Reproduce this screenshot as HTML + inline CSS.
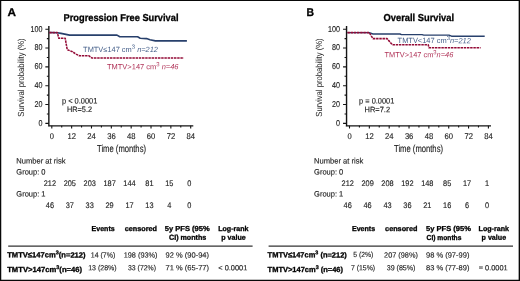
<!DOCTYPE html>
<html><head><meta charset="utf-8"><title>Survival</title>
<style>
html,body{margin:0;padding:0;background:#fff;}
body{width:520px;height:281px;overflow:hidden;font-family:"Liberation Sans",sans-serif;}
svg{display:block;will-change:transform;text-rendering:geometricPrecision;font-family:"Liberation Sans",sans-serif;}
</style></head><body>
<svg width="520" height="281" viewBox="0 0 520 281">
<rect x="0" y="0" width="520" height="281" fill="#fff"/>
<path d="M0 0H520V1.05H0ZM0 279.65H520V281H0ZM0 0H1.25V281H0ZM518.65 0H520V281H518.65Z" fill="#080808"/>
<path d="M48.85 26V125.85H193.3" fill="none" stroke="#141414" stroke-width="1.4" stroke-linecap="butt"/>
<path d="M48.15 125.85V126.55H49.550000000000004" fill="none" stroke="#141414" stroke-width="0.1"/>
<path d="M45.35 123.35H48.85M46.85 113.94H48.85M45.35 104.53H48.85M46.85 95.12H48.85M45.35 85.71H48.85M46.85 76.30H48.85M45.35 66.89H48.85M46.85 57.48H48.85M45.35 48.07H48.85M46.85 38.66H48.85M45.35 29.25H48.85M51.80 125.85V128.4M61.72 125.85V127.6M71.64 125.85V128.4M81.56 125.85V127.6M91.49 125.85V128.4M101.41 125.85V127.6M111.33 125.85V128.4M121.25 125.85V127.6M131.17 125.85V128.4M141.09 125.85V127.6M151.02 125.85V128.4M160.94 125.85V127.6M170.86 125.85V128.4M180.78 125.85V127.6M190.70 125.85V128.4" fill="none" stroke="#141414" stroke-width="1.1"/>
<text x="42.4" y="125.75" transform="rotate(0.03 42.4 125.75)" font-size="8.5" text-anchor="end" fill="#1e1e1e" stroke="#1e1e1e" stroke-width="0.14" textLength="4.0" lengthAdjust="spacingAndGlyphs">0</text>
<text x="42.4" y="106.93" transform="rotate(0.03 42.4 106.93)" font-size="8.5" text-anchor="end" fill="#1e1e1e" stroke="#1e1e1e" stroke-width="0.14" textLength="8.0" lengthAdjust="spacingAndGlyphs">20</text>
<text x="42.4" y="88.11" transform="rotate(0.03 42.4 88.11)" font-size="8.5" text-anchor="end" fill="#1e1e1e" stroke="#1e1e1e" stroke-width="0.14" textLength="8.0" lengthAdjust="spacingAndGlyphs">40</text>
<text x="42.4" y="69.29" transform="rotate(0.03 42.4 69.29)" font-size="8.5" text-anchor="end" fill="#1e1e1e" stroke="#1e1e1e" stroke-width="0.14" textLength="8.0" lengthAdjust="spacingAndGlyphs">60</text>
<text x="42.4" y="50.47" transform="rotate(0.03 42.4 50.47)" font-size="8.5" text-anchor="end" fill="#1e1e1e" stroke="#1e1e1e" stroke-width="0.14" textLength="8.0" lengthAdjust="spacingAndGlyphs">80</text>
<text x="42.4" y="31.65" transform="rotate(0.03 42.4 31.65)" font-size="8.5" text-anchor="end" fill="#1e1e1e" stroke="#1e1e1e" stroke-width="0.14" textLength="12.0" lengthAdjust="spacingAndGlyphs">100</text>
<text x="49.77" y="138.8" transform="rotate(0.03 49.77 138.8)" font-size="8.3" text-anchor="start" fill="#1e1e1e" stroke="#1e1e1e" stroke-width="0.14" textLength="4.2" lengthAdjust="spacingAndGlyphs">0</text>
<text x="67.49" y="138.8" transform="rotate(0.03 67.49 138.8)" font-size="8.3" text-anchor="start" fill="#1e1e1e" stroke="#1e1e1e" stroke-width="0.14" textLength="8.5" lengthAdjust="spacingAndGlyphs">12</text>
<text x="87.34" y="138.8" transform="rotate(0.03 87.34 138.8)" font-size="8.3" text-anchor="start" fill="#1e1e1e" stroke="#1e1e1e" stroke-width="0.14" textLength="8.5" lengthAdjust="spacingAndGlyphs">24</text>
<text x="107.18" y="138.8" transform="rotate(0.03 107.18 138.8)" font-size="8.3" text-anchor="start" fill="#1e1e1e" stroke="#1e1e1e" stroke-width="0.14" textLength="8.5" lengthAdjust="spacingAndGlyphs">36</text>
<text x="127.02" y="138.8" transform="rotate(0.03 127.02 138.8)" font-size="8.3" text-anchor="start" fill="#1e1e1e" stroke="#1e1e1e" stroke-width="0.14" textLength="8.5" lengthAdjust="spacingAndGlyphs">48</text>
<text x="146.87" y="138.8" transform="rotate(0.03 146.87 138.8)" font-size="8.3" text-anchor="start" fill="#1e1e1e" stroke="#1e1e1e" stroke-width="0.14" textLength="8.5" lengthAdjust="spacingAndGlyphs">60</text>
<text x="166.71" y="138.8" transform="rotate(0.03 166.71 138.8)" font-size="8.3" text-anchor="start" fill="#1e1e1e" stroke="#1e1e1e" stroke-width="0.14" textLength="8.5" lengthAdjust="spacingAndGlyphs">72</text>
<text x="186.55" y="138.8" transform="rotate(0.03 186.55 138.8)" font-size="8.3" text-anchor="start" fill="#1e1e1e" stroke="#1e1e1e" stroke-width="0.14" textLength="8.5" lengthAdjust="spacingAndGlyphs">84</text>
<text transform="translate(23.9 116.7) rotate(-90)" font-size="8.8" fill="#1e1e1e" textLength="78.3" lengthAdjust="spacingAndGlyphs">Survival probability (%)</text>
<text x="97.0" y="151.7" transform="rotate(0.03 97.0 151.7)" font-size="10.1" text-anchor="start" fill="#1e1e1e" stroke="#1e1e1e" stroke-width="0.14" textLength="49" lengthAdjust="spacingAndGlyphs">Time (months)</text>
<text x="63.5" y="21.0" transform="rotate(0.03 63.5 21.0)" font-size="10.0" text-anchor="start" fill="#000" font-weight="bold" stroke="#000" stroke-width="0.3" textLength="115.0" lengthAdjust="spacingAndGlyphs">Progression Free Survival</text>
<path d="M49.3 32.5L57.5 32.7L61 33.4L69.6 35.1H117L119.8 36.8H137.6L140.2 38.2L146.5 38.6L150 39.7L155.4 40.9H186.9" fill="none" stroke="#28406c" stroke-width="1.6" stroke-linejoin="round"/>
<path d="M49.3 32.6H57.3L58.8 38.2H65.2L67.2 49.6L72.4 51.7L76 54.1L79.4 55.8H89L91.8 57.9H183.8" fill="none" stroke="#930a36" stroke-width="1.55" stroke-dasharray="2.45 0.75" stroke-linejoin="round"/>
<text x="83.1" y="51.9" transform="rotate(0.03 83.1 51.9)" font-size="7.5" fill="#46608a" textLength="74.9" lengthAdjust="spacingAndGlyphs">TMTV≤147 cm<tspan font-size="6" dy="-3.1">3</tspan><tspan dy="3.1" font-style="italic"> n=212</tspan></text>
<text x="107" y="69.3" transform="rotate(0.03 107 69.3)" font-size="7.5" fill="#b03257" textLength="71.5" lengthAdjust="spacingAndGlyphs">TMTV&gt;147 cm<tspan font-size="6" dy="-3.1">3</tspan><tspan dy="3.1" font-style="italic"> n=46</tspan></text>
<text x="62" y="103.5" transform="rotate(0.03 62 103.5)" font-size="7.9" text-anchor="start" fill="#1e1e1e" stroke="#1e1e1e" stroke-width="0.14" textLength="35.3" lengthAdjust="spacingAndGlyphs">p &lt; 0.0001</text>
<text x="67" y="112.3" transform="rotate(0.03 67 112.3)" font-size="7.9" text-anchor="start" fill="#1e1e1e" stroke="#1e1e1e" stroke-width="0.14" textLength="25.0" lengthAdjust="spacingAndGlyphs">HR=5.2</text>
<text x="16.3" y="163.5" transform="rotate(0.03 16.3 163.5)" font-size="7.8" text-anchor="start" fill="#1e1e1e" stroke="#1e1e1e" stroke-width="0.14" textLength="49.2" lengthAdjust="spacingAndGlyphs">Number at risk</text>
<text x="16.3" y="174.6" transform="rotate(0.03 16.3 174.6)" font-size="7.8" text-anchor="start" fill="#1e1e1e" stroke="#1e1e1e" stroke-width="0.14" textLength="29.2" lengthAdjust="spacingAndGlyphs">Group: 0</text>
<text x="16.3" y="196.4" transform="rotate(0.03 16.3 196.4)" font-size="7.8" text-anchor="start" fill="#1e1e1e" stroke="#1e1e1e" stroke-width="0.14" textLength="29.2" lengthAdjust="spacingAndGlyphs">Group: 1</text>
<text x="43.75" y="185.7" transform="rotate(0.03 43.75 185.7)" font-size="8.1" text-anchor="start" fill="#1e1e1e" stroke="#1e1e1e" stroke-width="0.14" textLength="12.3" lengthAdjust="spacingAndGlyphs">212</text>
<text x="63.65" y="185.7" transform="rotate(0.03 63.65 185.7)" font-size="8.1" text-anchor="start" fill="#1e1e1e" stroke="#1e1e1e" stroke-width="0.14" textLength="12.3" lengthAdjust="spacingAndGlyphs">205</text>
<text x="83.55" y="185.7" transform="rotate(0.03 83.55 185.7)" font-size="8.1" text-anchor="start" fill="#1e1e1e" stroke="#1e1e1e" stroke-width="0.14" textLength="12.3" lengthAdjust="spacingAndGlyphs">203</text>
<text x="103.45" y="185.7" transform="rotate(0.03 103.45 185.7)" font-size="8.1" text-anchor="start" fill="#1e1e1e" stroke="#1e1e1e" stroke-width="0.14" textLength="12.3" lengthAdjust="spacingAndGlyphs">187</text>
<text x="123.35" y="185.7" transform="rotate(0.03 123.35 185.7)" font-size="8.1" text-anchor="start" fill="#1e1e1e" stroke="#1e1e1e" stroke-width="0.14" textLength="12.3" lengthAdjust="spacingAndGlyphs">144</text>
<text x="145.3" y="185.7" transform="rotate(0.03 145.3 185.7)" font-size="8.1" text-anchor="start" fill="#1e1e1e" stroke="#1e1e1e" stroke-width="0.14" textLength="8.2" lengthAdjust="spacingAndGlyphs">81</text>
<text x="165.2" y="185.7" transform="rotate(0.03 165.2 185.7)" font-size="8.1" text-anchor="start" fill="#1e1e1e" stroke="#1e1e1e" stroke-width="0.14" textLength="8.2" lengthAdjust="spacingAndGlyphs">15</text>
<text x="187.15" y="185.7" transform="rotate(0.03 187.15 185.7)" font-size="8.1" text-anchor="start" fill="#1e1e1e" stroke="#1e1e1e" stroke-width="0.14" textLength="4.1" lengthAdjust="spacingAndGlyphs">0</text>
<text x="45.8" y="207.75" transform="rotate(0.03 45.8 207.75)" font-size="8.1" text-anchor="start" fill="#1e1e1e" stroke="#1e1e1e" stroke-width="0.14" textLength="8.2" lengthAdjust="spacingAndGlyphs">46</text>
<text x="65.7" y="207.75" transform="rotate(0.03 65.7 207.75)" font-size="8.1" text-anchor="start" fill="#1e1e1e" stroke="#1e1e1e" stroke-width="0.14" textLength="8.2" lengthAdjust="spacingAndGlyphs">37</text>
<text x="85.6" y="207.75" transform="rotate(0.03 85.6 207.75)" font-size="8.1" text-anchor="start" fill="#1e1e1e" stroke="#1e1e1e" stroke-width="0.14" textLength="8.2" lengthAdjust="spacingAndGlyphs">33</text>
<text x="105.5" y="207.75" transform="rotate(0.03 105.5 207.75)" font-size="8.1" text-anchor="start" fill="#1e1e1e" stroke="#1e1e1e" stroke-width="0.14" textLength="8.2" lengthAdjust="spacingAndGlyphs">29</text>
<text x="125.4" y="207.75" transform="rotate(0.03 125.4 207.75)" font-size="8.1" text-anchor="start" fill="#1e1e1e" stroke="#1e1e1e" stroke-width="0.14" textLength="8.2" lengthAdjust="spacingAndGlyphs">17</text>
<text x="145.3" y="207.75" transform="rotate(0.03 145.3 207.75)" font-size="8.1" text-anchor="start" fill="#1e1e1e" stroke="#1e1e1e" stroke-width="0.14" textLength="8.2" lengthAdjust="spacingAndGlyphs">13</text>
<text x="167.25" y="207.75" transform="rotate(0.03 167.25 207.75)" font-size="8.1" text-anchor="start" fill="#1e1e1e" stroke="#1e1e1e" stroke-width="0.14" textLength="4.1" lengthAdjust="spacingAndGlyphs">4</text>
<text x="187.15" y="207.75" transform="rotate(0.03 187.15 207.75)" font-size="8.1" text-anchor="start" fill="#1e1e1e" stroke="#1e1e1e" stroke-width="0.14" textLength="4.1" lengthAdjust="spacingAndGlyphs">0</text>
<text x="91.6" y="230.9" transform="rotate(0.03 91.6 230.9)" font-size="7.2" text-anchor="start" fill="#000" font-weight="bold" stroke="#000" stroke-width="0.3" textLength="23.1" lengthAdjust="spacingAndGlyphs">Events</text>
<text x="124.7" y="230.9" transform="rotate(0.03 124.7 230.9)" font-size="7.2" text-anchor="start" fill="#000" font-weight="bold" stroke="#000" stroke-width="0.3" textLength="32.3" lengthAdjust="spacingAndGlyphs">censored</text>
<text x="164.8" y="230.9" transform="rotate(0.03 164.8 230.9)" font-size="7.2" text-anchor="start" fill="#000" font-weight="bold" stroke="#000" stroke-width="0.3" textLength="44.9" lengthAdjust="spacingAndGlyphs">5y PFS (95%</text>
<text x="169" y="239.7" transform="rotate(0.03 169 239.7)" font-size="7.2" text-anchor="start" fill="#000" font-weight="bold" stroke="#000" stroke-width="0.3" textLength="37.3" lengthAdjust="spacingAndGlyphs">CI) months</text>
<text x="218.2" y="230.9" transform="rotate(0.03 218.2 230.9)" font-size="7.2" text-anchor="start" fill="#000" font-weight="bold" stroke="#000" stroke-width="0.3" textLength="30.3" lengthAdjust="spacingAndGlyphs">Log-rank</text>
<text x="221.2" y="239.7" transform="rotate(0.03 221.2 239.7)" font-size="7.2" text-anchor="start" fill="#000" font-weight="bold" stroke="#000" stroke-width="0.3" textLength="24.5" lengthAdjust="spacingAndGlyphs">p value</text>
<path d="M8.2 246.1H252.6" stroke="#333" stroke-width="1.3"/>
<text x="7.2" y="257.35" transform="rotate(0.03 7.2 257.35)" font-size="7.4" font-weight="bold" fill="#000" stroke="#000" stroke-width="0.3" textLength="78.4" lengthAdjust="spacingAndGlyphs">TMTV≤147cm<tspan font-size="5.4" dy="-3">3</tspan><tspan dy="3">(n=212)</tspan></text>
<text x="90.8" y="257.4" transform="rotate(0.03 90.8 257.4)" font-size="7.4" text-anchor="start" fill="#1e1e1e" stroke="#1e1e1e" stroke-width="0.14" textLength="24.5" lengthAdjust="spacingAndGlyphs">14 (7%)</text>
<text x="123.7" y="257.4" transform="rotate(0.03 123.7 257.4)" font-size="7.4" text-anchor="start" fill="#1e1e1e" stroke="#1e1e1e" stroke-width="0.14" textLength="33.8" lengthAdjust="spacingAndGlyphs">198 (93%)</text>
<text x="165.6" y="257.4" transform="rotate(0.03 165.6 257.4)" font-size="7.4" text-anchor="start" fill="#1e1e1e" stroke="#1e1e1e" stroke-width="0.14" textLength="43.4" lengthAdjust="spacingAndGlyphs">92 % (90-94)</text>
<text x="7.2" y="272.0" transform="rotate(0.03 7.2 272.0)" font-size="7.4" font-weight="bold" fill="#000" stroke="#000" stroke-width="0.3" textLength="74.9" lengthAdjust="spacingAndGlyphs">TMTV&gt;147cm<tspan font-size="5.4" dy="-3">3</tspan><tspan dy="3">(n=46)</tspan></text>
<text x="88.2" y="270.3" transform="rotate(0.03 88.2 270.3)" font-size="7.4" text-anchor="start" fill="#1e1e1e" stroke="#1e1e1e" stroke-width="0.14" textLength="28.5" lengthAdjust="spacingAndGlyphs">13 (28%)</text>
<text x="128" y="270.3" transform="rotate(0.03 128 270.3)" font-size="7.4" text-anchor="start" fill="#1e1e1e" stroke="#1e1e1e" stroke-width="0.14" textLength="28" lengthAdjust="spacingAndGlyphs">33 (72%)</text>
<text x="165.6" y="270.3" transform="rotate(0.03 165.6 270.3)" font-size="7.4" text-anchor="start" fill="#1e1e1e" stroke="#1e1e1e" stroke-width="0.14" textLength="43.4" lengthAdjust="spacingAndGlyphs">71 % (65-77)</text>
<text x="218.3" y="270.3" transform="rotate(0.03 218.3 270.3)" font-size="7.4" text-anchor="start" fill="#1e1e1e" stroke="#1e1e1e" stroke-width="0.14" textLength="29.0" lengthAdjust="spacingAndGlyphs">&lt; 0.0001</text>
<path d="M346.55 26V125.85H491.0" fill="none" stroke="#141414" stroke-width="1.4" stroke-linecap="butt"/>
<path d="M345.85 125.85V126.55H347.25" fill="none" stroke="#141414" stroke-width="0.1"/>
<path d="M343.05 123.35H346.55M344.55 113.94H346.55M343.05 104.53H346.55M344.55 95.12H346.55M343.05 85.71H346.55M344.55 76.30H346.55M343.05 66.89H346.55M344.55 57.48H346.55M343.05 48.07H346.55M344.55 38.66H346.55M343.05 29.25H346.55M349.50 125.85V128.4M359.42 125.85V127.6M369.34 125.85V128.4M379.26 125.85V127.6M389.19 125.85V128.4M399.11 125.85V127.6M409.03 125.85V128.4M418.95 125.85V127.6M428.87 125.85V128.4M438.79 125.85V127.6M448.72 125.85V128.4M458.64 125.85V127.6M468.56 125.85V128.4M478.48 125.85V127.6M488.40 125.85V128.4" fill="none" stroke="#141414" stroke-width="1.1"/>
<text x="340.1" y="125.75" transform="rotate(0.03 340.1 125.75)" font-size="8.5" text-anchor="end" fill="#1e1e1e" stroke="#1e1e1e" stroke-width="0.14" textLength="4.0" lengthAdjust="spacingAndGlyphs">0</text>
<text x="340.1" y="106.93" transform="rotate(0.03 340.1 106.93)" font-size="8.5" text-anchor="end" fill="#1e1e1e" stroke="#1e1e1e" stroke-width="0.14" textLength="8.0" lengthAdjust="spacingAndGlyphs">20</text>
<text x="340.1" y="88.11" transform="rotate(0.03 340.1 88.11)" font-size="8.5" text-anchor="end" fill="#1e1e1e" stroke="#1e1e1e" stroke-width="0.14" textLength="8.0" lengthAdjust="spacingAndGlyphs">40</text>
<text x="340.1" y="69.29" transform="rotate(0.03 340.1 69.29)" font-size="8.5" text-anchor="end" fill="#1e1e1e" stroke="#1e1e1e" stroke-width="0.14" textLength="8.0" lengthAdjust="spacingAndGlyphs">60</text>
<text x="340.1" y="50.47" transform="rotate(0.03 340.1 50.47)" font-size="8.5" text-anchor="end" fill="#1e1e1e" stroke="#1e1e1e" stroke-width="0.14" textLength="8.0" lengthAdjust="spacingAndGlyphs">80</text>
<text x="340.1" y="31.65" transform="rotate(0.03 340.1 31.65)" font-size="8.5" text-anchor="end" fill="#1e1e1e" stroke="#1e1e1e" stroke-width="0.14" textLength="12.0" lengthAdjust="spacingAndGlyphs">100</text>
<text x="347.48" y="138.8" transform="rotate(0.03 347.48 138.8)" font-size="8.3" text-anchor="start" fill="#1e1e1e" stroke="#1e1e1e" stroke-width="0.14" textLength="4.2" lengthAdjust="spacingAndGlyphs">0</text>
<text x="365.19" y="138.8" transform="rotate(0.03 365.19 138.8)" font-size="8.3" text-anchor="start" fill="#1e1e1e" stroke="#1e1e1e" stroke-width="0.14" textLength="8.5" lengthAdjust="spacingAndGlyphs">12</text>
<text x="385.04" y="138.8" transform="rotate(0.03 385.04 138.8)" font-size="8.3" text-anchor="start" fill="#1e1e1e" stroke="#1e1e1e" stroke-width="0.14" textLength="8.5" lengthAdjust="spacingAndGlyphs">24</text>
<text x="404.88" y="138.8" transform="rotate(0.03 404.88 138.8)" font-size="8.3" text-anchor="start" fill="#1e1e1e" stroke="#1e1e1e" stroke-width="0.14" textLength="8.5" lengthAdjust="spacingAndGlyphs">36</text>
<text x="424.72" y="138.8" transform="rotate(0.03 424.72 138.8)" font-size="8.3" text-anchor="start" fill="#1e1e1e" stroke="#1e1e1e" stroke-width="0.14" textLength="8.5" lengthAdjust="spacingAndGlyphs">48</text>
<text x="444.57" y="138.8" transform="rotate(0.03 444.57 138.8)" font-size="8.3" text-anchor="start" fill="#1e1e1e" stroke="#1e1e1e" stroke-width="0.14" textLength="8.5" lengthAdjust="spacingAndGlyphs">60</text>
<text x="464.41" y="138.8" transform="rotate(0.03 464.41 138.8)" font-size="8.3" text-anchor="start" fill="#1e1e1e" stroke="#1e1e1e" stroke-width="0.14" textLength="8.5" lengthAdjust="spacingAndGlyphs">72</text>
<text x="484.25" y="138.8" transform="rotate(0.03 484.25 138.8)" font-size="8.3" text-anchor="start" fill="#1e1e1e" stroke="#1e1e1e" stroke-width="0.14" textLength="8.5" lengthAdjust="spacingAndGlyphs">84</text>
<text transform="translate(321.59999999999997 116.7) rotate(-90)" font-size="8.8" fill="#1e1e1e" textLength="78.3" lengthAdjust="spacingAndGlyphs">Survival probability (%)</text>
<text x="394.0" y="151.7" transform="rotate(0.03 394.0 151.7)" font-size="10.1" text-anchor="start" fill="#1e1e1e" stroke="#1e1e1e" stroke-width="0.14" textLength="49" lengthAdjust="spacingAndGlyphs">Time (months)</text>
<text x="383.5" y="21.0" transform="rotate(0.03 383.5 21.0)" font-size="10.0" text-anchor="start" fill="#000" font-weight="bold" stroke="#000" stroke-width="0.3" textLength="70.6" lengthAdjust="spacingAndGlyphs">Overall Survival</text>
<path d="M347.4 32.6H369.2L373 34.0H400L401.5 34.6H422.1L423.8 35.1H449L451.5 36.2H484.7" fill="none" stroke="#28406c" stroke-width="1.35" stroke-linejoin="round"/>
<path d="M347.4 32.6H369.2L373 38.6H387L392.3 44.7H428.2L429 47.75H480.6" fill="none" stroke="#930a36" stroke-width="1.55" stroke-dasharray="2.45 0.75" stroke-linejoin="round"/>
<text x="397.6" y="43.1" transform="rotate(0.03 397.6 43.1)" font-size="7.5" fill="#46608a" textLength="73.3" lengthAdjust="spacingAndGlyphs">TMTV&lt;147 cm<tspan font-size="6" dy="-3.1">3</tspan><tspan dy="3.1" font-style="italic">n=212</tspan></text>
<text x="384.6" y="57.3" transform="rotate(0.03 384.6 57.3)" font-size="7.5" fill="#b03257" textLength="68.7" lengthAdjust="spacingAndGlyphs">TMTV&gt;147 cm<tspan font-size="6" dy="-3.1">3</tspan><tspan dy="3.1" font-style="italic">n=46</tspan></text>
<text x="359.1" y="103.5" transform="rotate(0.03 359.1 103.5)" font-size="7.9" text-anchor="start" fill="#1e1e1e" stroke="#1e1e1e" stroke-width="0.14" textLength="35.2" lengthAdjust="spacingAndGlyphs">p = 0.0001</text>
<text x="364.6" y="112.3" transform="rotate(0.03 364.6 112.3)" font-size="7.9" text-anchor="start" fill="#1e1e1e" stroke="#1e1e1e" stroke-width="0.14" textLength="25.5" lengthAdjust="spacingAndGlyphs">HR=7.2</text>
<text x="314.1" y="163.5" transform="rotate(0.03 314.1 163.5)" font-size="7.8" text-anchor="start" fill="#1e1e1e" stroke="#1e1e1e" stroke-width="0.14" textLength="49.2" lengthAdjust="spacingAndGlyphs">Number at risk</text>
<text x="314.1" y="174.6" transform="rotate(0.03 314.1 174.6)" font-size="7.8" text-anchor="start" fill="#1e1e1e" stroke="#1e1e1e" stroke-width="0.14" textLength="29.2" lengthAdjust="spacingAndGlyphs">Group: 0</text>
<text x="314.1" y="196.4" transform="rotate(0.03 314.1 196.4)" font-size="7.8" text-anchor="start" fill="#1e1e1e" stroke="#1e1e1e" stroke-width="0.14" textLength="29.2" lengthAdjust="spacingAndGlyphs">Group: 1</text>
<text x="341.55" y="185.7" transform="rotate(0.03 341.55 185.7)" font-size="8.1" text-anchor="start" fill="#1e1e1e" stroke="#1e1e1e" stroke-width="0.14" textLength="12.3" lengthAdjust="spacingAndGlyphs">212</text>
<text x="361.45" y="185.7" transform="rotate(0.03 361.45 185.7)" font-size="8.1" text-anchor="start" fill="#1e1e1e" stroke="#1e1e1e" stroke-width="0.14" textLength="12.3" lengthAdjust="spacingAndGlyphs">209</text>
<text x="381.35" y="185.7" transform="rotate(0.03 381.35 185.7)" font-size="8.1" text-anchor="start" fill="#1e1e1e" stroke="#1e1e1e" stroke-width="0.14" textLength="12.3" lengthAdjust="spacingAndGlyphs">208</text>
<text x="401.25" y="185.7" transform="rotate(0.03 401.25 185.7)" font-size="8.1" text-anchor="start" fill="#1e1e1e" stroke="#1e1e1e" stroke-width="0.14" textLength="12.3" lengthAdjust="spacingAndGlyphs">192</text>
<text x="421.15" y="185.7" transform="rotate(0.03 421.15 185.7)" font-size="8.1" text-anchor="start" fill="#1e1e1e" stroke="#1e1e1e" stroke-width="0.14" textLength="12.3" lengthAdjust="spacingAndGlyphs">148</text>
<text x="443.1" y="185.7" transform="rotate(0.03 443.1 185.7)" font-size="8.1" text-anchor="start" fill="#1e1e1e" stroke="#1e1e1e" stroke-width="0.14" textLength="8.2" lengthAdjust="spacingAndGlyphs">85</text>
<text x="463.0" y="185.7" transform="rotate(0.03 463.0 185.7)" font-size="8.1" text-anchor="start" fill="#1e1e1e" stroke="#1e1e1e" stroke-width="0.14" textLength="8.2" lengthAdjust="spacingAndGlyphs">17</text>
<text x="484.95" y="185.7" transform="rotate(0.03 484.95 185.7)" font-size="8.1" text-anchor="start" fill="#1e1e1e" stroke="#1e1e1e" stroke-width="0.14" textLength="4.1" lengthAdjust="spacingAndGlyphs">1</text>
<text x="343.6" y="207.75" transform="rotate(0.03 343.6 207.75)" font-size="8.1" text-anchor="start" fill="#1e1e1e" stroke="#1e1e1e" stroke-width="0.14" textLength="8.2" lengthAdjust="spacingAndGlyphs">46</text>
<text x="363.5" y="207.75" transform="rotate(0.03 363.5 207.75)" font-size="8.1" text-anchor="start" fill="#1e1e1e" stroke="#1e1e1e" stroke-width="0.14" textLength="8.2" lengthAdjust="spacingAndGlyphs">46</text>
<text x="383.4" y="207.75" transform="rotate(0.03 383.4 207.75)" font-size="8.1" text-anchor="start" fill="#1e1e1e" stroke="#1e1e1e" stroke-width="0.14" textLength="8.2" lengthAdjust="spacingAndGlyphs">43</text>
<text x="403.3" y="207.75" transform="rotate(0.03 403.3 207.75)" font-size="8.1" text-anchor="start" fill="#1e1e1e" stroke="#1e1e1e" stroke-width="0.14" textLength="8.2" lengthAdjust="spacingAndGlyphs">36</text>
<text x="423.2" y="207.75" transform="rotate(0.03 423.2 207.75)" font-size="8.1" text-anchor="start" fill="#1e1e1e" stroke="#1e1e1e" stroke-width="0.14" textLength="8.2" lengthAdjust="spacingAndGlyphs">21</text>
<text x="443.1" y="207.75" transform="rotate(0.03 443.1 207.75)" font-size="8.1" text-anchor="start" fill="#1e1e1e" stroke="#1e1e1e" stroke-width="0.14" textLength="8.2" lengthAdjust="spacingAndGlyphs">16</text>
<text x="465.05" y="207.75" transform="rotate(0.03 465.05 207.75)" font-size="8.1" text-anchor="start" fill="#1e1e1e" stroke="#1e1e1e" stroke-width="0.14" textLength="4.1" lengthAdjust="spacingAndGlyphs">6</text>
<text x="484.95" y="207.75" transform="rotate(0.03 484.95 207.75)" font-size="8.1" text-anchor="start" fill="#1e1e1e" stroke="#1e1e1e" stroke-width="0.14" textLength="4.1" lengthAdjust="spacingAndGlyphs">0</text>
<text x="352.0" y="230.9" transform="rotate(0.03 352.0 230.9)" font-size="7.2" text-anchor="start" fill="#000" font-weight="bold" stroke="#000" stroke-width="0.3" textLength="23.1" lengthAdjust="spacingAndGlyphs">Events</text>
<text x="385.1" y="230.9" transform="rotate(0.03 385.1 230.9)" font-size="7.2" text-anchor="start" fill="#000" font-weight="bold" stroke="#000" stroke-width="0.3" textLength="32.3" lengthAdjust="spacingAndGlyphs">censored</text>
<text x="426.0" y="230.9" transform="rotate(0.03 426.0 230.9)" font-size="7.2" text-anchor="start" fill="#000" font-weight="bold" stroke="#000" stroke-width="0.3" textLength="44.9" lengthAdjust="spacingAndGlyphs">5y PFS (95%</text>
<text x="426.6" y="239.7" transform="rotate(0.03 426.6 239.7)" font-size="7.2" text-anchor="start" fill="#000" font-weight="bold" stroke="#000" stroke-width="0.3" textLength="34.8" lengthAdjust="spacingAndGlyphs">CI) months</text>
<text x="478.6" y="230.9" transform="rotate(0.03 478.6 230.9)" font-size="7.2" text-anchor="start" fill="#000" font-weight="bold" stroke="#000" stroke-width="0.3" textLength="30.3" lengthAdjust="spacingAndGlyphs">Log-rank</text>
<text x="481.6" y="239.7" transform="rotate(0.03 481.6 239.7)" font-size="7.2" text-anchor="start" fill="#000" font-weight="bold" stroke="#000" stroke-width="0.3" textLength="24.5" lengthAdjust="spacingAndGlyphs">p value</text>
<path d="M268.59999999999997 246.1H513.0" stroke="#333" stroke-width="1.3"/>
<text x="267.59999999999997" y="257.35" transform="rotate(0.03 267.59999999999997 257.35)" font-size="7.4" font-weight="bold" fill="#000" stroke="#000" stroke-width="0.3" textLength="79.2" lengthAdjust="spacingAndGlyphs">TMTV≤147cm<tspan font-size="5.4" dy="-3">3</tspan><tspan dy="3"> (n=212)</tspan></text>
<text x="353.2" y="257.4" transform="rotate(0.03 353.2 257.4)" font-size="7.4" text-anchor="start" fill="#1e1e1e" stroke="#1e1e1e" stroke-width="0.14" textLength="20.1" lengthAdjust="spacingAndGlyphs">5 (2%)</text>
<text x="384.1" y="257.4" transform="rotate(0.03 384.1 257.4)" font-size="7.4" text-anchor="start" fill="#1e1e1e" stroke="#1e1e1e" stroke-width="0.14" textLength="33.8" lengthAdjust="spacingAndGlyphs">207 (98%)</text>
<text x="426.0" y="257.4" transform="rotate(0.03 426.0 257.4)" font-size="7.4" text-anchor="start" fill="#1e1e1e" stroke="#1e1e1e" stroke-width="0.14" textLength="43.4" lengthAdjust="spacingAndGlyphs">98 % (97-99)</text>
<text x="267.59999999999997" y="272.0" transform="rotate(0.03 267.59999999999997 272.0)" font-size="7.4" font-weight="bold" fill="#000" stroke="#000" stroke-width="0.3" textLength="75.4" lengthAdjust="spacingAndGlyphs">TMTV&gt;147cm<tspan font-size="5.4" dy="-3">3</tspan><tspan dy="3"> (n=46)</tspan></text>
<text x="350.9" y="270.3" transform="rotate(0.03 350.9 270.3)" font-size="7.4" text-anchor="start" fill="#1e1e1e" stroke="#1e1e1e" stroke-width="0.14" textLength="24.2" lengthAdjust="spacingAndGlyphs">7 (15%)</text>
<text x="386.7" y="270.3" transform="rotate(0.03 386.7 270.3)" font-size="7.4" text-anchor="start" fill="#1e1e1e" stroke="#1e1e1e" stroke-width="0.14" textLength="28.8" lengthAdjust="spacingAndGlyphs">39 (85%)</text>
<text x="426.0" y="270.3" transform="rotate(0.03 426.0 270.3)" font-size="7.4" text-anchor="start" fill="#1e1e1e" stroke="#1e1e1e" stroke-width="0.14" textLength="43.4" lengthAdjust="spacingAndGlyphs">83 % (77-89)</text>
<text x="478.7" y="270.3" transform="rotate(0.03 478.7 270.3)" font-size="7.4" text-anchor="start" fill="#1e1e1e" stroke="#1e1e1e" stroke-width="0.14" textLength="29.0" lengthAdjust="spacingAndGlyphs">= 0.0001</text>
<text x="7.6" y="16.05" transform="rotate(0.03 7.6 16.05)" font-size="11.2" text-anchor="start" fill="#000" font-weight="bold" stroke="#000" stroke-width="0.3" textLength="8.5" lengthAdjust="spacingAndGlyphs">A</text>
<text x="306.6" y="16.05" transform="rotate(0.03 306.6 16.05)" font-size="11.2" text-anchor="start" fill="#000" font-weight="bold" stroke="#000" stroke-width="0.3" textLength="7.5" lengthAdjust="spacingAndGlyphs">B</text>
</svg>
</body></html>
